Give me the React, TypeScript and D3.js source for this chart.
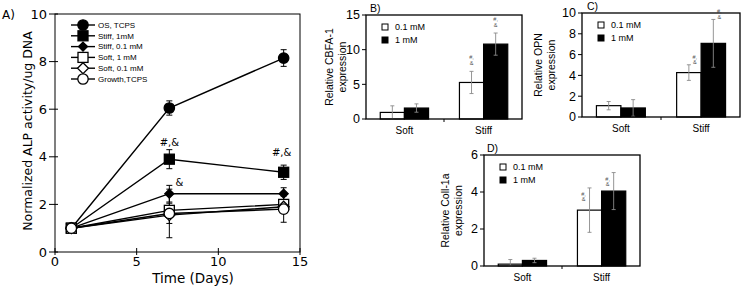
import { useMemo } from "react";
import * as d3 from "d3";

// ---- panel A: ALP activity over time ----
const days = [1, 7, 14];
const alpNames = ["OS, TCPS", "Stiff, 1mM", "Stiff, 0.1 mM", "Soft, 1 mM", "Soft, 0.1 mM", "Growth,TCPS"];
const osTcps = [1, 6.05, 8.15];
const osTcpsErr = [0.05, 0.3, 0.35];
const stiff1 = [1, 3.9, 3.35];
const stiff1Err = [0.05, 0.4, 0.3];
const stiff01 = [1, 2.45, 2.45];
const stiff01Err = [0.05, 0.35, 0.25];
const soft1 = [1, 1.75, 2.0];
const soft1Err = [0.05, 0.3, 0.2];
const soft01 = [1, 1.55, 1.9];
const soft01Err = [0.05, 0.35, 0.2];
const growth = [1, 1.62, 1.8];
const growthErr = [0.05, 1.02, 0.55];
const alpXTicks = [0, 5, 10, 15];
const alpYTicks = [0, 2, 4, 6, 8, 10];

// ---- panels B-D: gene expression ----
const categories = ["Soft", "Stiff"];
const doses = ["0.1 mM", "1 mM"];
const cbfaLow = [0.95, 5.27];
const cbfaLowErr = [0.95, 1.6];
const cbfaHigh = [1.58, 10.8];
const cbfaHighErr = [0.6, 1.6];
const opnLow = [1.09, 4.27];
const opnLowErr = [0.4, 0.75];
const opnHigh = [0.87, 7.08];
const opnHighErr = [0.8, 2.3];
const collLow = [0.1, 3.02];
const collLowErr = [0.25, 1.2];
const collHigh = [0.3, 4.05];
const collHighErr = [0.12, 1.0];
const cbfaTicks = [0, 5, 10, 15];
const opnTicks = [0, 2, 4, 6, 8, 10];
const collTicks = [0, 2, 4, 6];

const LS = "'Liberation Sans', Arial, sans-serif";
const DV = "'DejaVu Sans', sans-serif";

type Marker = "circle" | "square" | "diamond" | "smalldiamond";

function MarkerShape({ kind, filled, x, y }: { kind: Marker; filled: boolean; x: number; y: number }) {
  const fill = filled ? "#000" : "#fff";
  if (kind === "circle") return <circle cx={x} cy={y} r={5.2} fill={fill} stroke="#000" strokeWidth={1.3} />;
  if (kind === "square") return <rect x={x - 5} y={y - 5} width={10} height={10} fill={fill} stroke="#000" strokeWidth={1.3} />;
  const s = kind === "smalldiamond" ? 4.5 : 5.5;
  return <path d={`M${x},${y - s}L${x + s},${y}L${x},${y + s}L${x - s},${y}Z`} fill={fill} stroke="#000" strokeWidth={1.3} />;
}

function PanelA() {
  const x = d3.scaleLinear().domain([0, 15]).range([55, 300]);
  const y = d3.scaleLinear().domain([0, 10]).range([252, 14]);
  const series = [
    { name: alpNames[0], v: osTcps, e: osTcpsErr, m: "circle" as Marker, f: true },
    { name: alpNames[1], v: stiff1, e: stiff1Err, m: "square" as Marker, f: true },
    { name: alpNames[2], v: stiff01, e: stiff01Err, m: "smalldiamond" as Marker, f: true },
    { name: alpNames[3], v: soft1, e: soft1Err, m: "square" as Marker, f: false },
    { name: alpNames[4], v: soft01, e: soft01Err, m: "diamond" as Marker, f: false },
    { name: alpNames[5], v: growth, e: growthErr, m: "circle" as Marker, f: false },
  ];
  const line = d3.line<number>().x((_, i) => x(days[i])).y((d) => y(d));
  return (
    <g>
      <text x={2} y={19} fontFamily={DV} fontSize={12}>A)</text>
      <rect x={55} y={14} width={245} height={238} fill="none" stroke="#000" strokeWidth={1} />
      {alpYTicks.map((t) => (
        <g key={t}>
          <line x1={49} x2={58} y1={y(t)} y2={y(t)} stroke="#000" />
          <text x={47} y={y(t)} dy="0.35em" textAnchor="end" fontFamily={DV} fontSize={13}>{t}</text>
        </g>
      ))}
      {alpXTicks.map((t) => (
        <g key={t}>
          <line x1={x(t)} x2={x(t)} y1={248} y2={255} stroke="#000" />
          <text x={x(t)} y={266} textAnchor="middle" fontFamily={DV} fontSize={13}>{t}</text>
        </g>
      ))}
      <text x={193} y={283} textAnchor="middle" fontFamily={DV} fontSize={13.5}>Time (Days)</text>
      <text transform="translate(32,131) rotate(-90)" textAnchor="middle" fontFamily={DV} fontSize={12.5}>
        Normalized ALP activity/ug DNA
      </text>
      {series.map((s) => (
        <path key={s.name} d={line(s.v) || ""} fill="none" stroke="#000" strokeWidth={1.4} />
      ))}
      {series.map((s) =>
        s.v.map((v, i) => (
          <g key={s.name + i} stroke="#000" strokeWidth={1}>
            <line x1={x(days[i])} x2={x(days[i])} y1={y(v - s.e[i])} y2={y(v + s.e[i])} />
            <line x1={x(days[i]) - 3} x2={x(days[i]) + 3} y1={y(v - s.e[i])} y2={y(v - s.e[i])} />
            <line x1={x(days[i]) - 3} x2={x(days[i]) + 3} y1={y(v + s.e[i])} y2={y(v + s.e[i])} />
          </g>
        ))
      )}
      {series.map((s) =>
        s.v.map((v, i) => <MarkerShape key={s.name + "m" + i} kind={s.m} filled={s.f} x={x(days[i])} y={y(v)} />)
      )}
      <text x={x(7)} y={y(stiff1[1] + stiff1Err[1]) - 4} textAnchor="middle" fontFamily={DV} fontSize={10}>#,&amp;</text>
      <text x={x(14) - 2} y={y(stiff1[2] + stiff1Err[2]) - 9} textAnchor="middle" fontFamily={DV} fontSize={10}>#,&amp;</text>
      <text x={x(7) + 10} y={y(stiff01[1] + stiff01Err[1]) + 1} textAnchor="middle" fontFamily={DV} fontSize={10}>&amp;</text>
      {series.map((s, i) => {
        const ly = 25 + i * 10.8;
        return (
          <g key={"lg" + i}>
            <line x1={71} x2={95} y1={ly} y2={ly} stroke="#000" strokeWidth={1.4} />
            <MarkerShape kind={s.m} filled={s.f} x={83} y={ly} />
            <text x={98} y={ly} dy="0.35em" fontFamily={LS} fontSize={8}>{s.name}</text>
          </g>
        );
      })}
    </g>
  );
}

type BarProps = {
  label: string;
  labelX: number;
  left: number;
  top: number;
  width: number;
  height: number;
  yMax: number;
  ticks: number[];
  low: number[];
  lowErr: number[];
  high: number[];
  highErr: number[];
  yTitle: string[];
  titleX: number;
  noteDx: number;
  noteDy: number;
};

function BarPanel(p: BarProps) {
  const x0 = d3.scaleBand().domain(categories).range([p.left, p.left + p.width]).paddingInner(0.39).paddingOuter(0.18);
  const x1 = d3.scaleBand().domain(doses).range([0, x0.bandwidth()]);
  const y = d3.scaleLinear().domain([0, p.yMax]).range([p.top + p.height, p.top]);
  const vals = [p.low, p.high];
  const errs = [p.lowErr, p.highErr];
  const bottom = p.top + p.height;
  const midTick = p.left + p.width / 2;
  return (
    <g fontFamily={LS}>
      {categories.map((c, ci) =>
        doses.map((d, di) => {
          const v = vals[di][ci];
          const e = errs[di][ci];
          const bx = (x0(c) || 0) + (x1(d) || 0);
          const cx = bx + x1.bandwidth() / 2;
          return (
            <g key={c + d}>
              <rect x={bx} y={y(v)} width={x1.bandwidth()} height={bottom - y(v)} fill={di === 0 ? "#fff" : "#000"} stroke="#000" strokeWidth={1.2} />
              <g stroke="#8a8a8a" strokeWidth={0.9}>
                <line x1={cx} x2={cx} y1={y(Math.max(0, v - e))} y2={y(v + e)} />
                <line x1={cx - 2} x2={cx + 2} y1={y(v + e)} y2={y(v + e)} />
                <line x1={cx - 2} x2={cx + 2} y1={y(Math.max(0, v - e))} y2={y(Math.max(0, v - e))} />
              </g>
              {c === "Stiff" && (
                <text x={cx + p.noteDx} y={y(v + e) + p.noteDy} textAnchor="middle" fontSize={5.5} fill="#555">
                  <tspan x={cx + p.noteDx}>#,</tspan>
                  <tspan x={cx + p.noteDx} dy={5.5}>&amp;</tspan>
                </text>
              )}
            </g>
          );
        })
      )}
      <rect x={p.left} y={p.top} width={p.width} height={p.height} fill="none" stroke="#000" strokeWidth={1.3} />
      <line x1={midTick} x2={midTick} y1={bottom} y2={bottom + 3} stroke="#000" />
      {p.ticks.map((t) => (
        <g key={t}>
          <line x1={p.left - 4} x2={p.left} y1={y(t)} y2={y(t)} stroke="#000" />
          <text x={p.left - 6} y={y(t)} dy="0.35em" textAnchor="end" fontSize={12.5}>{t}</text>
        </g>
      ))}
      {categories.map((c) => (
        <text key={c} x={(x0(c) || 0) + x0.bandwidth() / 2} y={bottom + 15} textAnchor="middle" fontSize={10}>{c}</text>
      ))}
      <text transform={`translate(${p.titleX},${p.top + p.height / 2}) rotate(-90)`} textAnchor="middle" fontSize={10.5}>
        <tspan x={0} dy={-6}>{p.yTitle[0]}</tspan>
        <tspan x={0} dy={13}>{p.yTitle[1]}</tspan>
      </text>
      {doses.map((d, di) => (
        <g key={d}>
          <rect x={p.left + 16} y={p.top + 9 + di * 13} width={6} height={6} fill={di === 0 ? "#fff" : "#000"} stroke="#000" strokeWidth={1} />
          <text x={p.left + 29} y={p.top + 12 + di * 13} dy="0.35em" fontSize={9}>{d}</text>
        </g>
      ))}
      <text x={p.labelX} y={p.top - 3} fontSize={10.5}>{p.label}</text>
    </g>
  );
}

export default function App() {
  const panels = useMemo(
    () => [
      { label: "B)", labelX: 370, left: 366, top: 15, width: 156, height: 104, yMax: 15, ticks: cbfaTicks, low: cbfaLow, lowErr: cbfaLowErr, high: cbfaHigh, highErr: cbfaHighErr, yTitle: ["Relative CBFA-1", "expression"], titleX: 339, noteDx: 0, noteDy: -12 },
      { label: "C)", labelX: 587, left: 582, top: 13, width: 158, height: 104, yMax: 10, ticks: opnTicks, low: opnLow, lowErr: opnLowErr, high: opnHigh, highErr: opnHighErr, yTitle: ["Relative OPN", "expression"], titleX: 548, noteDx: 6, noteDy: -6 },
      { label: "D)", labelX: 487, left: 484, top: 155, width: 156, height: 111, yMax: 6, ticks: collTicks, low: collLow, lowErr: collLowErr, high: collHigh, highErr: collHighErr, yTitle: ["Relative Coll-1a", "expression"], titleX: 455, noteDx: -6, noteDy: 8 },
    ],
    []
  );
  return (
    <svg width={743} height={287} style={{ position: "absolute", left: 0, top: 0, background: "#fff" }}>
      <PanelA />
      {panels.map((p) => (
        <BarPanel key={p.label} {...p} />
      ))}
    </svg>
  );
}
